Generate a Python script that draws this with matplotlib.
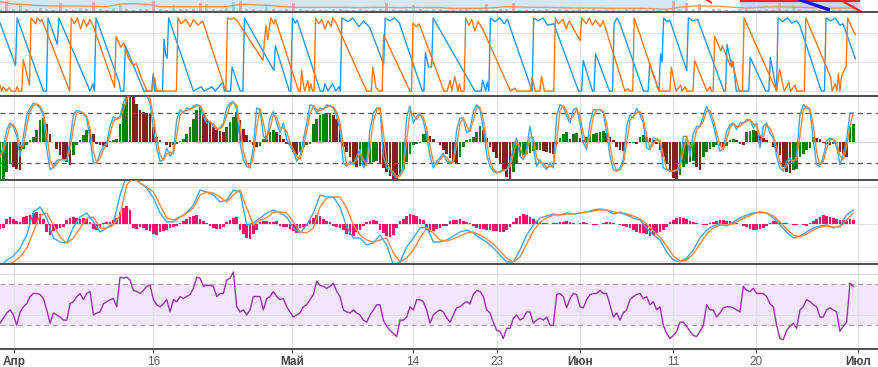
import numpy as np
import pandas as pd
import matplotlib
matplotlib.use("Agg")
import matplotlib.pyplot as plt
import matplotlib.dates as mdates

plt.rcParams['font.family'] = ['Liberation Sans', 'DejaVu Sans']

# time span of the series (4h candles, values sampled evenly over it)
START = "2024-03-30 12:00"
END = "2024-06-30 10:30"

tick_dates = ["2024-04-01", "2024-04-16", "2024-05-01", "2024-05-14", "2024-05-23",
              "2024-06-01", "2024-06-11", "2024-06-20", "2024-07-01"]
tick_labels = ["Апр", "16", "Май", "14", "23", "Июн", "11", "20", "Июл"]
month_labels = ["Апр", "Май", "Июн", "Июл"]

# --- price strip (cut off at top) ---
price_vals = [10.6, 8.3, 7.6, 6.6, 6.3, 6.3, 6.3, 6.0, 5.6, 8.3, 8.6, 8.0, 5.6, 5.6, 5.6, 5.6, 5.6,
              5.6, 8.0, 7.6, 7.0, 6.0, 5.0, 5.0, 5.0, 5.0, 5.0, 4.6, 5.0, 5.0, 4.6, 5.0, 4.6, 4.6,
              4.0, 4.0, 4.0, 4.6, 5.6, 5.3, 5.0, 5.0, 4.6, 4.3, 4.3, 4.3, 4.0, 4.0, 4.0, 3.6, 3.0,
              5.0, 6.3, 6.3, 6.0, 5.0, 4.3, 5.0, 5.6, 5.3, 5.0, 4.6, 4.3, 4.3, 4.3]
# signed volume: + up candle, - down candle
volume_vals = [3, -10, 3, 9, -3, 2, -4, 3, -2, -9, 3, -2, 4, -3, -10, 3, -2, 4, 8, -3,
               2, 3, -3, -11, 3, -2, 7, -3, 3, -3, -9, 8, 3, -2, 4, 10, -11, 3, -3, 2,
               8, -3, 2, -3, -9, 3, -2, 3, -2, 2, 3, -3, 2, -2, 3, -2, 2, 3, -9, 3,
               -2, 3, 7, -3, 2, 3, -3, 2, -2, 3, -3, 2, 3, -8, 2, -3, 3, -9, 2, -2,
               3, 2, -3, 2, 3, -2, 2, -3, 2, 3, -2, 3, -2, 2, 3, -3, 2, -2, 3, 2,
               -3, -11, 3, -9, 3, -8, 2, -3, 3, -2, 2, 3, -3, 2, -2, 3, -2, -9, 3, 7,
               -3, 2, 3, -2, 2, 3, -3, 2, 8]
blue_zone = ("2024-03-30 00:00", "2024-06-12 12:00")
violet_zone = ("2024-06-18 05:00", "2024-07-01 04:00")
red_level = (11.6, "2024-06-18 05:00", "2024-07-01 04:00")
blue_trend = [("2024-06-24 12:00", 13.0), ("2024-06-27 22:00", 2.3)]
red_trend = [("2024-06-28 20:00", 13.5), ("2024-07-01 10:00", 0.0)]
red_trend_small = [("2024-06-14 12:00", 13.5), ("2024-06-15 05:00", 9.3)]

# --- Aroon: (bar index, value) ---
aroon_up = [(0, 8), (1, 0), (2, 6), (4, 0), (6, 5), (7, 0), (10, 0), (11, 6), (12, 0), (14, 0), (15, 43),
            (19, 8), (20, 100), (23, 92), (24, 100), (26, 95), (27, 98), (45, 0), (46, 100), (48, 92),
            (50, 100), (52, 85), (54, 98), (56, 88), (58, 98), (60, 90), (74, 5), (75, 75), (78, 60),
            (80, 66), (83, 45), (86, 35), (88, 38), (91, 20), (95, 0), (98, 0), (100, 18), (101, 0),
            (114, 0), (115, 100), (117, 92), (120, 98), (123, 88), (125, 98), (128, 90), (131, 96),
            (146, 0), (147, 100), (149, 98), (151, 100), (153, 97), (170, 42), (171, 73), (172, 90),
            (173, 70), (175, 100), (177, 92), (178, 98), (193, 0), (194, 0), (195, 28), (196, 10),
            (197, 0), (199, 14), (200, 0), (201, 10), (202, 0), (203, 0), (204, 100), (206, 92),
            (208, 98), (210, 85), (212, 96), (214, 88), (215, 100), (217, 94), (237, 0), (240, 0),
            (241, 33), (243, 5), (245, 0), (247, 0), (248, 77), (265, 0), (266, 0), (267, 93),
            (269, 88), (271, 92), (287, 0), (289, 0), (291, 15), (292, 0), (294, 20), (296, 0),
            (297, 10), (298, 0), (300, 0), (301, 100), (303, 90), (305, 98), (307, 82), (309, 95),
            (312, 85), (330, 0), (333, 4), (334, 0), (343, 0), (344, 19), (346, 0), (349, 0),
            (350, 20), (352, 0), (358, 0), (359, 100), (361, 92), (364, 98), (366, 85), (368, 96),
            (370, 88), (375, 69), (376, 100), (379, 92), (381, 100), (383, 90), (385, 97), (388, 88),
            (390, 96), (404, 0), (406, 3), (407, 0), (409, 0), (410, 100), (426, 0), (433, 0),
            (434, 33), (437, 0), (440, 8), (441, 0), (443, 6), (444, 0), (448, 0), (449, 42),
            (457, 0), (459, 6), (460, 0), (461, 0), (462, 75), (466, 55), (467, 62), (472, 35),
            (473, 42), (478, 0), (480, 0), (481, 100), (502, 0), (504, 30), (506, 10), (507, 0),
            (510, 12), (511, 0), (514, 8), (515, 0), (520, 0), (521, 100), (537, 19), (538, 0),
            (540, 10), (541, 0), (542, 24), (543, 0), (544, 20), (546, 30), (547, 33), (548, 100),
            (550, 90), (553, 77)]
aroon_down = [(0, 93), (10, 35), (11, 100), (28, 0), (30, 0), (31, 100), (37, 64), (38, 100), (57, 6),
              (58, 0), (60, 10), (61, 0), (62, 100), (77, 12), (78, 0), (80, 0), (81, 62), (93, 0),
              (98, 0), (99, 24), (100, 0), (105, 0), (106, 71), (107, 50), (108, 45), (109, 100),
              (125, 0), (130, 6), (132, 0), (137, 6), (139, 0), (144, 12), (145, 0), (149, 0),
              (150, 33), (155, 1), (157, 0), (158, 100), (177, 28), (178, 62), (187, 0), (188, 0),
              (189, 100), (191, 93), (192, 97), (207, 0), (209, 0), (210, 10), (212, 0), (215, 10),
              (217, 0), (219, 6), (220, 0), (221, 100), (225, 95), (228, 100), (232, 88), (235, 96),
              (239, 87), (248, 37), (249, 100), (252, 96), (255, 100), (258, 94), (273, 0), (274, 0),
              (275, 53), (277, 33), (279, 33), (280, 100), (307, 0), (311, 0), (312, 15), (314, 0),
              (315, 12), (316, 0), (317, 100), (320, 95), (323, 100), (326, 92), (328, 98), (344, 0),
              (345, 100), (348, 96), (351, 100), (354, 90), (358, 92), (374, 0), (376, 0), (377, 42),
              (383, 0), (384, 0), (385, 51), (394, 0), (396, 0), (397, 93), (399, 100), (401, 91),
              (416, 0), (419, 0), (420, 37), (426, 0), (427, 51), (428, 40), (429, 100), (431, 95),
              (433, 97), (444, 28), (445, 100), (448, 96), (451, 98), (468, 0), (469, 0), (470, 64),
              (473, 33), (474, 40), (476, 0), (484, 0), (485, 46), (495, 0), (497, 0), (498, 46),
              (502, 0), (503, 100), (506, 95), (509, 100), (512, 93), (515, 96), (517, 90), (531, 0),
              (533, 0), (534, 100), (537, 96), (540, 100), (543, 90), (545, 92), (553, 44)]

# --- oscillator with momentum histogram ---
osc_k = [28, 40, 60, 68, 64, 52, 28, 52, 78, 86, 92, 90, 86, 76, 36, 12, 15, 23, 24, 24,
         23, 48, 78, 83, 82, 79, 74, 48, 20, 20, 32, 40, 44, 64, 76, 72, 76, 92, 102, 104,
         106, 106, 106, 104, 102, 92, 60, 38, 22, 24, 38, 28, 34, 72, 84, 80, 86, 84, 88, 90,
         88, 76, 68, 70, 64, 60, 62, 68, 86, 92, 94, 84, 44, 24, 16, 14, 40, 86, 84, 52,
         48, 74, 82, 68, 56, 68, 48, 40, 34, 22, 28, 48, 68, 90, 88, 80, 86, 84, 90, 88,
         86, 76, 60, 20, 16, 22, 18, 28, 36, 14, 20, 60, 80, 86, 86, 28, 14, 12, 6, 2,
         6, 16, 76, 88, 68, 76, 80, 70, 52, 28, 14, 22, 26,
         32, 22, 20, 22, 60, 74, 74, 56, 60, 82, 90, 84, 60, 30, 16, 10, 8, 10, 12, 12,
         20, 40, 50, 28, 24, 38, 64, 38, 16, 24, 16, 12, 20, 14, 76, 90, 88, 76, 68, 84,
         86, 68, 44, 36, 68, 84, 84, 84, 80, 56, 28, 12, 10, 14, 24, 64, 78, 74, 86, 78,
         68, 38, 36, 50, 48, 46, 14, 12, 10, 10, 12, 16, 52, 52, 28, 56, 64, 64, 76, 88,
         78, 66, 48, 34, 38, 58, 66, 68, 60, 68, 68, 72, 72, 62, 68, 38, 64, 68, 56, 50,
         28, 14, 10, 22, 26, 20, 28, 78, 90, 86, 84, 48, 18, 16, 28, 46, 50, 48, 40, 18,
         30, 48, 80, 80]
osc_d = [28, 34, 50, 64, 66, 58, 40, 40, 65, 82, 89, 91, 88, 81, 56, 24, 14, 19, 24, 24,
         24, 36, 63, 80, 82, 80, 76, 61, 34, 20, 26, 36, 42, 54, 70, 74, 74, 84, 97, 103,
         105, 106, 106, 105, 103, 97, 76, 49, 30, 23, 31, 33, 31, 53, 78, 82, 83, 85, 86, 89,
         89, 82, 72, 69, 67, 62, 61, 65, 77, 89, 93, 89, 64, 34, 20, 15, 27, 63, 85, 68,
         50, 61, 78, 75, 62, 62, 58, 44, 37, 28, 25, 38, 58, 79, 89, 84, 83, 85, 87, 89,
         87, 81, 68, 40, 18, 19, 20, 23, 32, 25, 17, 40, 70, 83, 86, 57, 21, 13, 9, 4,
         4, 11, 46, 82, 78, 72, 78, 75, 61, 40, 21, 18, 24,
         29, 27, 21, 21, 41, 67, 74, 65, 58, 71, 86, 87, 72, 45, 23, 13, 9, 9, 11, 12,
         16, 30, 45, 39, 26, 31, 51, 51, 27, 20, 20, 14, 16, 17, 45, 83, 89, 82, 72, 76,
         85, 77, 56, 40, 52, 76, 84, 84, 82, 68, 42, 20, 11, 12, 19, 44, 71, 76, 80, 82,
         73, 53, 37, 43, 49, 47, 30, 13, 11, 10, 11, 14, 34, 52, 40, 42, 60, 64, 70, 82,
         83, 72, 57, 41, 36, 48, 62, 67, 64, 64, 68, 70, 72, 67, 65, 53, 51, 66, 62, 53,
         39, 21, 12, 16, 24, 23, 24, 53, 84, 88, 85, 66, 33, 17, 22, 37, 48, 49, 44, 29,
         24, 39, 64, 80]
osc_hist = [-38, -38, -30, -22, -25, -27, -28, -7, -3, 2, 5, 12, 22, 24, 18, 8, 0, -7, -13, -17,
            -20, -23, -13, -3, 2, 7, 12, 13, 8, -2, -3, -4, -5, 1, 2, 3, 18, 38, 48, 50,
            48, 38, 32, 30, 29, 28, 15, 5, 2, 0, -3, -5, -3, -2, 1, 3, 8, 15, 23, 32,
            35, 28, 23, 20, 15, 12, 11, 10, 15, 20, 25, 30, 22, 13, 7, 2, -3, -5, -4, 3,
            7, 10, 12, 10, 7, 3, -2, -3, -10, -13, -10, -5, -3, -2, 18, 23, 27, 28, 28, 29,
            27, 23, 18, -5, -10, -15, -20, -25, -24, -23, -22, -21, -20, -19, -22, -26, -30, -34, -38, -40,
            -33, -27, -20, -12, -3, -2, -1, 8, 11, 6, 3, 0, -3,
            -8, -12, -16, -20, -22, -15, -5, 2, 3, 5, 10, 16, 12, 4, -5, -10, -16, -22, -28, -35,
            -38, -30, -22, -14, -13, -12, -11, -9, -8, -8, -9, -10, -11, -12, -2, 4, 8, 10, 3, 8,
            9, 4, 2, 5, 7, 8, 9, 10, 11, 9, 5, 2, -5, -8, -9, -1, -1, -1, -2, 5,
            7, 5, 4, 2, -2, -8, -15, -22, -28, -36, -38, -33, -25, -22, -20, -19, -25, -28, -15, -10,
            -7, -5, -3, -4, -5, -4, 2, 3, 2, -2, -3, 10, 11, 12, 11, 7, 4, 2, 0, -5,
            -10, -13, -25, -30, -31, -28, -27, -15, -12, -8, -6, 5, 4, 3, -1, -2, -3, -2, -1, -10,
            -12, -15, 15, 18]

# --- MACD ---
macd_line = [-43, -36, -32, -24, -11, 12, 17, 6, -14, -18, -19, -3, 7, 11, 2, -8, -4, 1, 29, 49,
             49, 41, 36, 26, 11, 2, 2, 7, 11, 19, 34, 32, 29, 22, 24, 34, 32, -1, 1, 6,
             11, 14, 11, 7, -4, -9, -1, 11, 29, 27, 27, 17, -3, -14, -14, -21, -19, -11, -21, -41,
             -38, -23, -14, -4, -3, -18, -18,
             -16, -12, -8, -6, -9, -14, -18, -24, -31, -38, -38, -26, -11, -1, 6, 8, 10, 9, 11, 10,
             11, 12, 14, 15, 14, 10, 12, 9, 6, 4, -4, -11, -16, -28, -36, -38, -34, -26, -14, -6,
             -2, 0, -2, 2, 6, 9, 11, 12, 11, 6, -1, -8, -14, -12, -8, -4, -2, -1, -4, -2, 9, 14]
macd_signal = [-43, -41, -38, -33, -24, -8, 9, 11, -1, -13, -19, -14, -4, 6, 7, -4, -4, -1, 9, 39,
               46, 41, 37, 32, 19, 6, 4, 7, 11, 16, 29, 32, 31, 27, 22, 29, 34, 16, -1, 4,
               6, 12, 12, 11, 2, -8, -9, -4, 17, 26, 27, 27, 16, -1, -11, -16, -18, -16, -14, -29,
               -38, -34, -26, -14, -4, -9, -16,
               -17, -15, -12, -9, -8, -11, -15, -20, -27, -34, -38, -33, -20, -7, 2, 6, 9, 9, 10, 10,
               11, 12, 13, 14, 14, 12, 11, 10, 8, 5, 0, -7, -13, -22, -32, -37, -36, -30, -20, -10,
               -4, -1, -1, 0, 4, 7, 10, 12, 11, 8, 2, -5, -11, -13, -10, -6, -3, -2, -3, -3, 4, 11]
macd_hist = [-5, -4, 5, 7, 5, 3, 2, 7, 8, 9, 11, 12, 10, 5, -8, -11, -7, -5, -4, -3,
             4, 6, 7, 6, 5, 6, 5, 2, -5, -6, -3, 1, 2, 2, 4, 6, 12, 16, 18, 14,
             -4, -5, -3, -4, -6, -7, -10, -11, -8, -7, -6, -4, -3, -2, 1, 3, 5, 7, 8, 9,
             5, 3, 1, -2, -4, -5, -5, -3, 2, 4, 6, 7, -6, -10, -14, -15, -10, -6, 2, 3,
             3, 2, 2, 3, -2, -3, -3, -5, -7, -9, -4, -3, -2, 4, 6, 9, 8, 5, 3, 2,
             -2, -3, -4, -6, -10, -11, -12, -8, -6, -2, 2, 3, 4, 3, -6, -9, -12, -13, -11, -4,
             3, 5, 8, 10, 9, 8, 5, 4, -6, -8, -7, -5, -4,
             -2, -2, 3, 4, 4, 5, 3, 2, 1, -2, -4, -5, -5, -6, -6, -7, -7, -8, -8, -6,
             -3, 2, 6, 8, 10, 9, 7, 5, 3, 2, 1, 1, 0, 1, 1, 2, 2, 3, 2, 1,
             0, 1, 2, 1, 0, -1, -1, 0, 1, 2, 2, 1, 0, -1, -2, -3, -4, -6, -8, -9,
             -9, -10, -12, -11, -9, -8, -6, -3, 2, 4, 6, 7, 6, 5, 3, 2, 1, 0, -1, -1,
             1, 2, 3, 4, 4, 3, 3, 2, 1, 0, -2, -3, -5, -6, -6, -5, -4, -2, 1, 3,
             3, 2, 1, 1, 0, -1, -1, 0, -1, -2, 1, 3, 5, 7, 9, 8, 7, 6, 5, 4,
             4, 3, 5, 4]

# --- RSI ---
rsi_vals = [32, 37, 42, 45, 40, 30, 43, 48, 51, 58, 61, 61, 60, 56, 45, 32, 42, 40, 38, 35,
            35, 51, 53, 58, 61, 55, 61, 63, 40, 42, 43, 51, 53, 55, 56, 48, 77, 76, 77, 74,
            64, 63, 61, 64, 68, 69, 55, 50, 48, 51, 55, 43, 55, 53, 58, 56, 58, 60, 66, 77,
            76, 68, 69, 69, 68, 58, 61, 61, 74, 76, 82, 48, 43, 45, 40, 45, 58, 58, 58, 45,
            56, 58, 63, 58, 55, 56, 48, 43, 38, 40, 42, 48, 50, 55, 60, 73, 69, 68, 66, 68,
            71, 63, 58, 45, 43, 42, 45, 42, 40, 35, 33, 40, 45, 50, 50, 35, 29, 25, 22, 19,
            35, 35, 38, 48, 45, 55, 55, 53, 45, 32, 40, 43, 45,
            43, 37, 33, 40, 47, 48, 51, 53, 51, 60, 64, 63, 58, 45, 42, 33, 25, 24, 17, 27,
            27, 37, 40, 35, 37, 43, 43, 32, 35, 37, 35, 38, 30, 30, 60, 61, 58, 47, 56, 61,
            60, 48, 47, 55, 60, 61, 61, 64, 61, 61, 50, 38, 42, 35, 42, 45, 55, 58, 60, 61,
            56, 58, 50, 53, 45, 48, 30, 22, 17, 20, 24, 33, 33, 29, 24, 20, 19, 24, 30, 50,
            45, 45, 38, 42, 47, 48, 48, 47, 45, 43, 68, 64, 63, 66, 61, 61, 61, 58, 51, 48,
            30, 17, 16, 25, 29, 32, 27, 45, 48, 55, 53, 50, 48, 38, 38, 45, 47, 45, 43, 24,
            29, 33, 71, 68]


def stamps(vals):
    return mdates.date2num(pd.date_range(START, END, periods=len(vals)).values)


def bar_stamps(pairs):
    bars = np.array([p[0] for p in pairs], dtype=float)
    t = pd.Timestamp(START) + pd.to_timedelta(bars * 4, unit="h")
    return mdates.date2num(t.values), np.array([p[1] for p in pairs], dtype=float)


def d2n(s):
    return mdates.date2num(pd.Timestamp(s))


W, H = 879, 367
fig = plt.figure(figsize=(W / 100, H / 100), dpi=100)
x_lo = d2n("2024-04-01") - 1.51
x_hi = d2n("2024-04-01") + 93.21
tick_x = [d2n(d) for d in tick_dates]
BORDER = '#4f4f4f'
GRID = '#e2e2e2'


def panel(top, bottom):
    return fig.add_axes([0, 1 - bottom / H, 1, (bottom - top) / H])


def style(ax, grid=True):
    ax.set_xlim(x_lo, x_hi)
    ax.set_xticks(tick_x)
    ax.tick_params(axis='x', length=0, labelbottom=False)
    ax.set_yticks([])
    if grid:
        ax.grid(axis='x', color=GRID, lw=0.8)
    ax.set_axisbelow(True)
    for s in ('left', 'right'):
        ax.spines[s].set_visible(False)
    for s in ('top', 'bottom'):
        ax.spines[s].set_color(BORDER)
        ax.spines[s].set_linewidth(1.4)


# price strip
ax0 = fig.add_axes([0, 1 - 12.3 / H, 1, 52.3 / H])
style(ax0)
ax0.spines['top'].set_visible(False)
ax0.set_ylim(0, 52.3)
ax0.axvspan(d2n(blue_zone[0]), d2n(blue_zone[1]), color='#d3e8f3', lw=0, zorder=0)
ax0.axvspan(d2n(violet_zone[0]), d2n(violet_zone[1]), color='#d3d3f4', lw=0, zorder=0)
vt = stamps(volume_vals)
vv = np.array(volume_vals, dtype=float)
step = vt[1] - vt[0]
ax0.bar(vt, np.abs(vv), width=step * 0.45, color=np.where(vv > 0, '#9ed3c6', '#e6a5b6'),
        lw=0, zorder=1)
ax0.plot(stamps(price_vals), price_vals, color='#e99a66', lw=1.0, zorder=2)
ax0.hlines(red_level[0], d2n(red_level[1]), d2n(red_level[2]), color='#ff2020', lw=1.6, zorder=3)
for seg, col, lw in [(blue_trend, '#1414e6', 2.4), (red_trend, '#ff2020', 1.6),
                     (red_trend_small, '#ff2020', 1.4)]:
    ax0.plot([d2n(seg[0][0]), d2n(seg[1][0])], [seg[0][1], seg[1][1]], color=col, lw=lw,
             solid_capstyle='butt', zorder=3)

# Aroon
ax1 = panel(12.3, 96)
style(ax1)
ax1.set_ylim(-6.7, 107.7)
for lvl in (0, 40, 80):
    ax1.axhline(lvl, color=GRID, lw=0.8, zorder=0)
t, v = bar_stamps(aroon_down)
ax1.plot(t, v, color='#2196f3', lw=1.0)
t, v = bar_stamps(aroon_up)
ax1.plot(t, v, color='#fb7a12', lw=1.0)

# oscillator panel
ax2 = panel(96, 180)
style(ax2)
ax2.set_ylim(-38, 46)
ax2.axhline(0, color='#d6d6d6', lw=0.9, zorder=0)
ht = stamps(osc_hist)
hv = np.array(osc_hist, dtype=float)
colors = np.where(np.diff(hv, prepend=hv[0]) >= 0, '#0a7d0a', '#862020')
ax2.bar(ht, hv, width=(ht[1] - ht[0]) * 0.8, color=colors, lw=0, zorder=1)
ax2b = ax2.twinx()
style(ax2b, grid=False)
ax2b.set_ylim(-0.4, 100.4)
for lvl in (20, 80):
    ax2b.axhline(lvl, color='#555555', lw=0.9, ls=(0, (4, 3)), zorder=1)
ax2b.plot(stamps(osc_k), osc_k, color='#3ea6f2', lw=1.0, zorder=2)
ax2b.plot(stamps(osc_d), osc_d, color='#fb8a3c', lw=1.0, zorder=3)

# MACD
ax3 = panel(180, 264)
style(ax3)
ax3.set_ylim(-40, 44)
for lvl in (-37, 0, 37):
    ax3.axhline(lvl, color=GRID, lw=0.8, zorder=0)
mt = stamps(macd_hist)
ax3.bar(mt, macd_hist, width=(mt[1] - mt[0]) * 0.8, color='#f5106b', lw=0, zorder=1)
ax3.plot(stamps(macd_line), macd_line, color='#3ea6f2', lw=1.0, zorder=2)
ax3.plot(stamps(macd_signal), macd_signal, color='#fb8a3c', lw=1.0, zorder=3)

# RSI
ax4 = panel(264, 349)
style(ax4)
ax4.set_ylim(6.8, 89.8)
ax4.axhspan(30, 70, color='#f3e6fc', lw=0, zorder=0)
for lvl in (40, 80):
    ax4.axhline(lvl, color='#e0dce6', lw=0.8, zorder=0)
for lvl in (30, 70):
    ax4.axhline(lvl, color='#a8a0ae', lw=0.9, ls=(0, (4, 3)), zorder=1)
ax4.plot(stamps(rsi_vals), rsi_vals, color='#9c2fb0', lw=1.0, zorder=2)

ax4.tick_params(axis='x', length=3, width=0.8, color=BORDER, labelbottom=True,
                labelsize=8.5, pad=2)
ax4.set_xticklabels(tick_labels)
for lab in ax4.get_xticklabels():
    if lab.get_text() in month_labels:
        lab.set_fontweight('bold')
        lab.set_color('#444444')
    else:
        lab.set_color('#5a5a5a')

fig.savefig('out.png', dpi=100)
